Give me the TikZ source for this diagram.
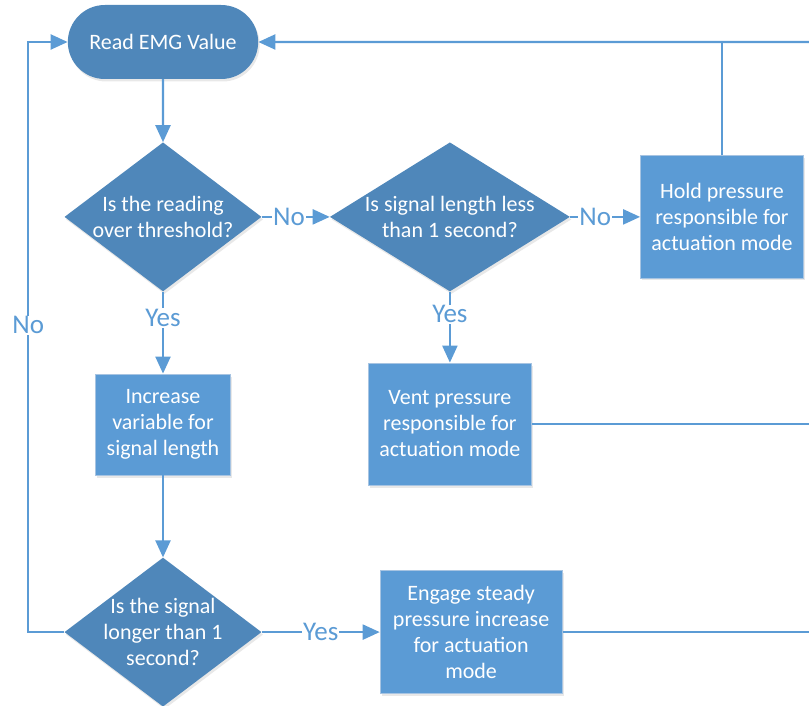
\documentclass[tikz,border=0pt]{standalone}
\usepackage{fontspec}
\setmainfont{Carlito}
\usetikzlibrary{arrows.meta,positioning,shapes.geometric,shapes.misc,shadows}
\definecolor{emgDark}{HTML}{4F87BA}
\definecolor{emgLight}{HTML}{5B9BD5}
\definecolor{emgEdge}{HTML}{A7C4E2}

\begin{document}
\begin{tikzpicture}[x=1pt, y=1pt,
    font=\fontsize{22}{26}\selectfont,
    softshadow/.style={drop shadow={shadow xshift=1.5pt, shadow yshift=-2.5pt, opacity=0.18}},
    term/.style={rounded rectangle, fill=emgDark, text=white,
      minimum width=197pt, minimum height=74pt, softshadow},
    dec/.style={diamond, fill=emgDark, inner sep=0pt,
      minimum width=197pt, minimum height=149pt, softshadow},
    dtxt/.style={text=white, align=center},
    act/.style={rectangle, draw=emgEdge, line width=0.8pt, fill=emgLight, text=white,
      align=center, inner sep=0pt, minimum width=163pt, minimum height=122pt, softshadow},
    ln/.style={draw=emgLight, line width=2.2pt},
    arr/.style={ln, -{Triangle[length=17pt, width=15pt]}},
    lbl/.style={fill=white, text=emgLight, inner sep=1pt, font=\fontsize{27}{30}\selectfont}]
  \useasboundingbox (0,0) rectangle (809,-706);

  % main column
  \node[term] (read) at (163,-42) {Read EMG Value};
  \node[dec, below=63pt of read, label={[dtxt]center:Is the reading\\over threshold?}] (thresh) {};
  \node[act, below=82pt of thresh, minimum width=135pt, minimum height=101pt] (count)
    {Increase\\variable for\\signal length};
  \node[dec, below=82pt of count, label={[dtxt]center:Is the signal\\longer than 1\\second?}] (long) {};

  % branches to the right
  \node[dec, right=68pt of thresh, minimum width=240pt,
    label={[dtxt]center:Is signal length less\\than 1 second?}] (short) {};
  \node[act, right=70pt of short] (hold) {Hold pressure\\responsible for\\actuation mode};
  \node[act, below=71pt of short] (vent) {Vent pressure\\responsible for\\actuation mode};
  \node[act, right=118pt of long, minimum width=182pt, minimum height=123pt] (engage)
    {Engage steady\\pressure increase\\for actuation\\mode};

  \draw[arr] (read) -- (thresh);
  \draw[arr] (thresh) -- node[lbl, pos=0.4] {No} (short);
  \draw[arr] (short) -- node[lbl, pos=0.36] {No} (hold);
  \draw[arr] (thresh) -- node[lbl, pos=0.32] {Yes} (count);
  \draw[arr] (short) -- node[lbl, pos=0.32] {Yes} (vent);
  \draw[arr] (count) -- (long);
  \draw[arr] (long) -- node[lbl] {Yes} (engage);
  \draw[arr] (long.west) -- ++(-36,0) |- node[lbl, pos=0.26] {No} (read.west);

  % return lines on the right
  \coordinate (edge) at (809,-42);
  \draw[arr] (edge) -- (read);
  \draw[ln] (hold) -- (hold |- edge);
  \draw[ln] (vent) -- (vent -| edge);
  \draw[ln] (engage) -- (engage -| edge);
\end{tikzpicture}
\end{document}
